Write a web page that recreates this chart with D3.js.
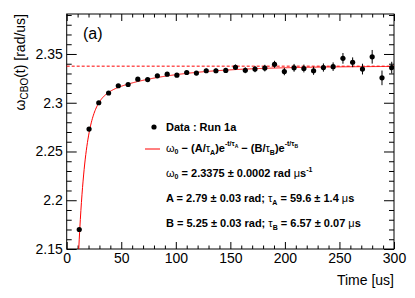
<!DOCTYPE html>
<html>
<head>
<meta charset="utf-8">
<script src="https://cdn.jsdelivr.net/npm/d3@7"></script>
<style>
  body { margin: 0; background: #fff; }
  svg { display: block; font-family: "Liberation Sans", Arial, Helvetica, sans-serif; }
</style>
</head>
<body>
<svg id="chart" width="415" height="298"></svg>
<script>
// data : Run 1a, omega_CBO vs time
let times = [11.5, 20.5, 29.4, 38.4, 47.3, 56.3, 65.2, 74.2, 83.1, 92.1, 101.0,
             110.0, 118.9, 127.9, 136.8, 145.8, 154.7, 163.7, 172.6, 181.6, 190.5,
             199.5, 208.4, 217.4, 226.3, 235.3, 244.2, 253.2, 262.1, 271.1, 280.0,
             289.0, 297.9];
let omega = [2.170, 2.273, 2.300, 2.310, 2.3174, 2.3187, 2.3242, 2.3238, 2.3276, 2.3293, 2.3283,
             2.3310, 2.3304, 2.3328, 2.3328, 2.3331, 2.3364, 2.3333, 2.3345, 2.3355, 2.3394,
             2.3320, 2.3358, 2.3351, 2.3328, 2.3361, 2.3370, 2.3455, 2.3415, 2.3345, 2.3471,
             2.3255, 2.3360];
let omegaErr = [0.0010, 0.0010, 0.0010, 0.0010, 0.0011, 0.0012, 0.0012, 0.0013, 0.0014, 0.0015, 0.0016,
                0.0018, 0.0020, 0.0022, 0.0024, 0.0026, 0.0028, 0.0030, 0.0032, 0.0034, 0.0036,
                0.0038, 0.0040, 0.0040, 0.0042, 0.0042, 0.0044, 0.0055, 0.0050, 0.0055, 0.0070,
                0.0075, 0.0060];

// fit parameters (from the legend)
let w0 = 2.3375, A = 2.79, tauA = 59.6, B = 5.25, tauB = 6.57;

let xTicks = [0, 50, 100, 150, 200, 250, 300];
let xLabels = ["0", "50", "100", "150", "200", "250", "300"];
let yTicks = [2.15, 2.2, 2.25, 2.3, 2.35];
let yLabels = ["2.15", "2.2", "2.25", "2.3", "2.35"];

let W = 415, H = 298;
let margin = {top: 14, left: 66.7, bottom: 49, right: 21};
let svg = d3.select("#chart");

let x = d3.scaleLinear().domain([0, 300]).range([margin.left, W - margin.right]);
let y = d3.scaleLinear().domain([2.15, 2.391]).range([H - margin.bottom, margin.top]);

let x0 = x.range()[0], x1 = x.range()[1], yb = y.range()[0], yt = y.range()[1];

svg.append("clipPath").attr("id", "clip")
  .append("rect").attr("x", x0).attr("y", yt).attr("width", x1 - x0).attr("height", yb - yt);

// minor tick positions
let xMinor = d3.range(0, 301, 10).filter(v => v % 50 != 0);
let yMinor = d3.range(0, 25).map(i => +(2.15 + i * 0.01).toFixed(2)).filter(v => !yTicks.includes(v));

function styleAxis(g) {
  g.select(".domain").remove();
  g.selectAll("line").attr("stroke", "#000").attr("stroke-width", 1);
  g.selectAll("text").attr("font-size", "14px").attr("fill", "#000")
    .attr("font-family", "Liberation Sans, Arial, sans-serif");
}

// left axis
svg.append("g").attr("transform", `translate(${x0},0)`)
  .call(d3.axisLeft(y).tickValues(yTicks).tickSize(-10).tickPadding(4)
    .tickFormat((d, i) => yLabels[i]))
  .call(styleAxis);
svg.append("g").attr("transform", `translate(${x0},0)`)
  .call(d3.axisLeft(y).tickValues(yMinor).tickSize(-5).tickFormat(""))
  .call(styleAxis);
// right axis
svg.append("g").attr("transform", `translate(${x1},0)`)
  .call(d3.axisRight(y).tickValues(yTicks).tickSize(-10).tickFormat(""))
  .call(styleAxis);
svg.append("g").attr("transform", `translate(${x1},0)`)
  .call(d3.axisRight(y).tickValues(yMinor).tickSize(-5).tickFormat(""))
  .call(styleAxis);
// bottom axis
svg.append("g").attr("transform", `translate(0,${yb})`)
  .call(d3.axisBottom(x).tickValues(xTicks).tickSize(-7).tickPadding(4)
    .tickFormat((d, i) => xLabels[i]))
  .call(styleAxis);
svg.append("g").attr("transform", `translate(0,${yb})`)
  .call(d3.axisBottom(x).tickValues(xMinor).tickSize(-3.5).tickFormat(""))
  .call(styleAxis);
// top axis
svg.append("g").attr("transform", `translate(0,${yt})`)
  .call(d3.axisTop(x).tickValues(xTicks).tickSize(-7).tickFormat(""))
  .call(styleAxis);
svg.append("g").attr("transform", `translate(0,${yt})`)
  .call(d3.axisTop(x).tickValues(xMinor).tickSize(-3.5).tickFormat(""))
  .call(styleAxis);

// frame
svg.append("rect").attr("x", x0).attr("y", yt).attr("width", x1 - x0).attr("height", yb - yt)
  .attr("fill", "none").attr("stroke", "#000").attr("stroke-width", 1);

// dashed omega_0 line
svg.append("line")
  .attr("x1", x0).attr("x2", x1).attr("y1", y(w0)).attr("y2", y(w0))
  .attr("stroke", "#ff0000").attr("stroke-width", 1).attr("stroke-dasharray", "3,2");

// fit function
let fit = t => w0 - (A / tauA) * Math.exp(-t / tauA) - (B / tauB) * Math.exp(-t / tauB);
let fitT = d3.range(8, 300.5, 0.5);
svg.append("path").datum(fitT)
  .attr("clip-path", "url(#clip)")
  .attr("fill", "none").attr("stroke", "#ff0000").attr("stroke-width", 1)
  .attr("d", d3.line().x(t => x(t)).y(t => y(fit(t))));

// data points
let pts = svg.append("g").attr("clip-path", "url(#clip)");
pts.selectAll("line.err").data(times).enter().append("line").attr("class", "err")
  .attr("x1", d => x(d)).attr("x2", d => x(d))
  .attr("y1", (d, i) => y(omega[i] - omegaErr[i]))
  .attr("y2", (d, i) => y(omega[i] + omegaErr[i]))
  .attr("stroke", "#000").attr("stroke-width", 1);
pts.selectAll("circle").data(times).enter().append("circle")
  .attr("cx", d => x(d)).attr("cy", (d, i) => y(omega[i]))
  .attr("r", 2.6).attr("fill", "#000");

// (a) label
svg.append("text").attr("x", 83).attr("y", 39).attr("font-size", "16px").text("(a)");

// axis titles
svg.append("text").attr("x", W - margin.right).attr("y", 285)
  .attr("text-anchor", "end").attr("font-size", "14px").text("Time [us]");

let yt_ = svg.append("text").attr("transform", `translate(25,${yt}) rotate(-90)`)
  .attr("text-anchor", "end").attr("font-size", "14px");
yt_.append("tspan").text("ω");
yt_.append("tspan").attr("font-size", "10px").attr("dy", 3).text("CBO");
yt_.append("tspan").attr("dy", -3).text("(t) [rad/us]");

// legend
let leg = svg.append("g").attr("font-weight", "bold").attr("font-size", "11px");
leg.append("circle").attr("cx", 154).attr("cy", 127).attr("r", 2.6).attr("fill", "#000");
leg.append("text").attr("x", 166).attr("y", 131).text("Data : Run 1a");

leg.append("line").attr("x1", 145).attr("x2", 160).attr("y1", 149).attr("y2", 149)
  .attr("stroke", "#ff0000").attr("stroke-width", 1);

let f = leg.append("text").attr("x", 166).attr("y", 152);
f.append("tspan").attr("font-weight", "normal").text("ω");
f.append("tspan").attr("font-size", "7px").attr("dy", 2).text("0");
f.append("tspan").attr("dy", -2).text(" − (A/");
f.append("tspan").attr("font-weight", "normal").text("τ");
f.append("tspan").attr("font-size", "7px").attr("dy", 3).text("A");
f.append("tspan").attr("dy", -3).text(")e");
f.append("tspan").attr("font-size", "7px").attr("dy", -6).text("-t/τ");
f.append("tspan").attr("font-size", "5px").attr("dy", 2).text("A");
f.append("tspan").attr("dy", 4).text(" − (B/");
f.append("tspan").attr("font-weight", "normal").text("τ");
f.append("tspan").attr("font-size", "7px").attr("dy", 3).text("B");
f.append("tspan").attr("dy", -3).text(")e");
f.append("tspan").attr("font-size", "7px").attr("dy", -6).text("-t/τ");
f.append("tspan").attr("font-size", "5px").attr("dy", 2).text("B");

let l1 = leg.append("text").attr("x", 166).attr("y", 177);
l1.append("tspan").attr("font-weight", "normal").text("ω");
l1.append("tspan").attr("font-size", "7px").attr("dy", 2).text("0");
l1.append("tspan").attr("dy", -2).text(" = 2.3375 ± 0.0002 rad  ");
l1.append("tspan").attr("font-weight", "normal").text("μ");
l1.append("tspan").text("s");
l1.append("tspan").attr("font-size", "7px").attr("dy", -5).text("-1");

let l2 = leg.append("text").attr("x", 166).attr("y", 202);
l2.append("tspan").text("A = 2.79 ± 0.03 rad; ");
l2.append("tspan").attr("font-weight", "normal").text("τ");
l2.append("tspan").attr("font-size", "7px").attr("dy", 3).text("A");
l2.append("tspan").attr("dy", -3).text(" = 59.6 ± 1.4  ");
l2.append("tspan").attr("font-weight", "normal").text("μ");
l2.append("tspan").text("s");

let l3 = leg.append("text").attr("x", 166).attr("y", 227);
l3.append("tspan").text("B = 5.25 ± 0.03 rad; ");
l3.append("tspan").attr("font-weight", "normal").text("τ");
l3.append("tspan").attr("font-size", "7px").attr("dy", 3).text("B");
l3.append("tspan").attr("dy", -3).text(" = 6.57 ± 0.07  ");
l3.append("tspan").attr("font-weight", "normal").text("μ");
l3.append("tspan").text("s");
</script>
</body>
</html>
